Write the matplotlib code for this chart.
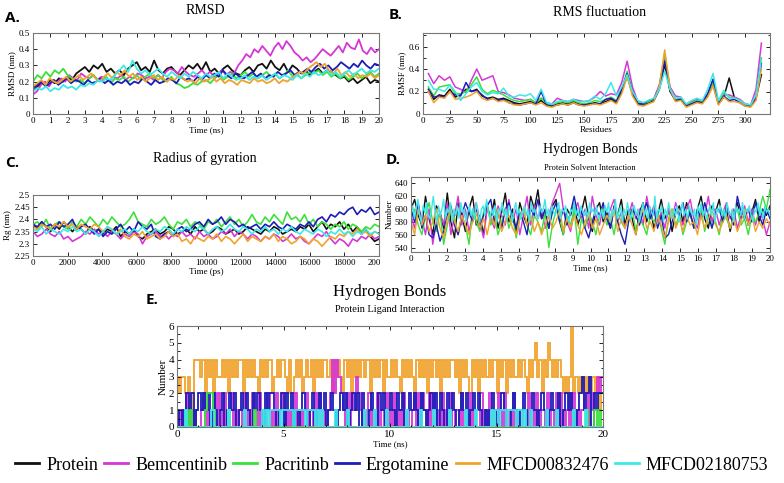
import matplotlib
matplotlib.use('Agg')
import matplotlib.pyplot as plt
import numpy as np
from matplotlib.transforms import Bbox, TransformedBbox

plt.rcParams.update({
    'font.family': 'Liberation Serif',
    'font.size': 7,
    'xtick.direction': 'in',
    'ytick.direction': 'in',
    'xtick.top': True,
    'ytick.right': True,
    'xtick.major.size': 3,
    'ytick.major.size': 3,
    'xtick.minor.size': 1.8,
    'ytick.minor.size': 1.8,
    'xtick.major.width': 0.6,
    'ytick.major.width': 0.6,
    'xtick.labelsize': 6.5,
    'ytick.labelsize': 6.5,
    'xtick.major.pad': 2,
    'ytick.major.pad': 2,
    'axes.edgecolor': '#777777',
    'axes.linewidth': 0.8,
})

NAMES = ['Protein', 'Bemcentinib', 'Pacritinb', 'Ergotamine', 'MFCD00832476', 'MFCD02180753']
COLORS = ['#111111', '#d636d6', '#3be03b', '#1c1cb8', '#f0a32c', '#3ee8e8']

# ---- A. RMSD (nm), 0-20 ns ----
rmsd_protein = [0.14,0.17,0.19,0.18,0.21,0.19,0.22,0.20,0.23,0.21,0.25,0.27,0.29,0.26,0.30,0.28,0.31,0.26,0.28,0.25,
                0.27,0.24,0.28,0.30,0.32,0.27,0.29,0.26,0.33,0.27,0.25,0.28,0.29,0.26,0.24,0.27,0.30,0.28,0.31,0.27,
                0.32,0.26,0.28,0.25,0.28,0.30,0.27,0.25,0.24,0.27,0.29,0.26,0.30,0.31,0.28,0.33,0.29,0.27,0.31,0.26,
                0.30,0.28,0.25,0.27,0.24,0.26,0.28,0.25,0.27,0.26,0.24,0.22,0.23,0.20,0.22,0.19,0.21,0.23,0.19,0.21,0.20]
rmsd_bemcentinib = [0.12,0.14,0.18,0.20,0.17,0.21,0.19,0.22,0.20,0.24,0.22,0.21,0.25,0.23,0.22,0.24,0.21,0.23,0.22,0.20,
                    0.23,0.22,0.24,0.21,0.23,0.22,0.25,0.24,0.22,0.23,0.21,0.24,0.22,0.26,0.28,0.27,0.25,0.29,0.26,0.24,
                    0.23,0.25,0.27,0.24,0.26,0.23,0.25,0.27,0.24,0.26,0.25,0.30,0.33,0.37,0.35,0.40,0.38,0.42,0.39,0.36,
                    0.41,0.44,0.40,0.45,0.42,0.38,0.36,0.33,0.35,0.32,0.34,0.37,0.40,0.38,0.36,0.39,0.42,0.38,0.44,0.41,
                    0.40,0.46,0.39,0.37,0.41,0.38,0.40]
rmsd_pacritinb = [0.20,0.24,0.22,0.26,0.23,0.27,0.25,0.28,0.24,0.22,0.20,0.21,0.19,0.22,0.24,0.21,0.20,0.23,0.19,0.22,
                  0.21,0.23,0.20,0.22,0.24,0.21,0.23,0.25,0.22,0.24,0.21,0.20,0.23,0.19,0.18,0.16,0.17,0.19,0.18,0.20,
                  0.21,0.19,0.22,0.24,0.21,0.23,0.25,0.22,0.24,0.26,0.23,0.25,0.22,0.24,0.26,0.23,0.25,0.22,0.24,0.27,
                  0.23,0.25,0.22,0.24,0.26,0.25,0.27,0.24,0.26,0.23,0.25,0.22,0.24,0.21,0.23,0.25,0.22,0.24,0.26,0.23,0.25]
rmsd_ergotamine = [0.16,0.18,0.20,0.17,0.19,0.21,0.18,0.20,0.22,0.19,0.21,0.20,0.18,0.21,0.19,0.20,0.22,0.19,0.21,0.18,
                   0.20,0.19,0.21,0.18,0.20,0.19,0.22,0.20,0.18,0.21,0.19,0.20,0.22,0.21,0.19,0.23,0.21,0.22,0.20,0.23,
                   0.21,0.24,0.22,0.25,0.23,0.27,0.24,0.22,0.25,0.23,0.22,0.24,0.26,0.23,0.25,0.22,0.24,0.23,0.26,0.24,
                   0.25,0.27,0.24,0.26,0.25,0.28,0.26,0.29,0.31,0.28,0.30,0.27,0.29,0.32,0.30,0.28,0.31,0.29,0.33,0.30,
                   0.28,0.31,0.30]
rmsd_mfcd008 = [0.17,0.19,0.21,0.18,0.22,0.20,0.19,0.21,0.23,0.20,0.22,0.24,0.21,0.23,0.25,0.22,0.20,0.23,0.25,0.22,
                0.26,0.24,0.27,0.23,0.25,0.21,0.23,0.20,0.22,0.24,0.21,0.23,0.20,0.22,0.21,0.24,0.22,0.20,0.21,0.19,
                0.22,0.20,0.21,0.23,0.20,0.22,0.19,0.21,0.20,0.18,0.21,0.20,0.19,0.22,0.20,0.21,0.19,0.20,0.22,0.19,
                0.21,0.20,0.22,0.24,0.26,0.25,0.28,0.30,0.32,0.29,0.31,0.27,0.25,0.28,0.24,0.26,0.23,0.25,0.22,0.24,
                0.23,0.25,0.22,0.24]
rmsd_mfcd021 = [0.14,0.16,0.15,0.17,0.14,0.16,0.15,0.18,0.16,0.17,0.15,0.18,0.17,0.19,0.18,0.21,0.20,0.22,0.21,0.24,
                0.27,0.30,0.26,0.33,0.28,0.25,0.27,0.24,0.26,0.28,0.25,0.23,0.26,0.24,0.22,0.25,0.23,0.26,0.24,0.22,
                0.25,0.23,0.24,0.26,0.22,0.25,0.23,0.21,0.22,0.24,0.21,0.23,0.22,0.24,0.21,0.23,0.25,0.22,0.24,0.23,
                0.21,0.24,0.22,0.25,0.23,0.26,0.24,0.25,0.27,0.24,0.26,0.23,0.25,0.27,0.24,0.26,0.28,0.25,0.27,0.26,0.28]

# ---- B. RMSF (nm), residues 5..315 every 5 ----
rmsf_protein = [0.20,0.13,0.17,0.16,0.22,0.15,0.17,0.22,0.20,0.22,0.16,0.14,0.15,0.13,0.14,0.12,0.10,0.09,0.10,0.11,
                0.09,0.12,0.08,0.07,0.09,0.10,0.09,0.11,0.09,0.08,0.09,0.10,0.09,0.11,0.13,0.10,0.20,0.34,0.18,0.09,
                0.08,0.10,0.12,0.22,0.44,0.20,0.12,0.13,0.07,0.09,0.11,0.10,0.16,0.26,0.09,0.15,0.32,0.14,0.12,0.08,
                0.07,0.14,0.35]
rmsf_bemcentinib = [0.36,0.27,0.34,0.30,0.33,0.24,0.22,0.19,0.30,0.40,0.30,0.32,0.34,0.20,0.19,0.17,0.14,0.13,0.12,0.13,
                    0.10,0.14,0.10,0.09,0.14,0.12,0.11,0.13,0.12,0.11,0.12,0.15,0.20,0.16,0.18,0.17,0.28,0.47,0.24,0.11,
                    0.10,0.11,0.14,0.26,0.50,0.24,0.16,0.15,0.08,0.11,0.13,0.12,0.18,0.30,0.10,0.17,0.17,0.15,0.13,0.09,
                    0.08,0.22,0.63]
rmsf_pacritinb = [0.24,0.16,0.24,0.25,0.26,0.18,0.18,0.20,0.26,0.33,0.22,0.18,0.21,0.19,0.17,0.14,0.12,0.11,0.12,0.13,
                  0.10,0.14,0.09,0.08,0.10,0.11,0.10,0.12,0.10,0.09,0.10,0.12,0.11,0.13,0.15,0.12,0.22,0.38,0.20,0.10,
                  0.09,0.11,0.13,0.24,0.54,0.22,0.13,0.14,0.08,0.10,0.12,0.11,0.17,0.28,0.10,0.19,0.15,0.14,0.12,0.08,
                  0.08,0.16,0.50]
rmsf_ergotamine = [0.22,0.15,0.16,0.15,0.20,0.17,0.16,0.28,0.20,0.21,0.17,0.13,0.14,0.12,0.13,0.10,0.09,0.08,0.09,0.10,
                   0.09,0.20,0.08,0.07,0.08,0.09,0.08,0.10,0.08,0.08,0.09,0.09,0.09,0.13,0.14,0.11,0.22,0.36,0.20,0.09,
                   0.09,0.12,0.13,0.24,0.47,0.21,0.12,0.13,0.07,0.09,0.11,0.10,0.18,0.31,0.09,0.16,0.12,0.13,0.10,0.07,
                   0.07,0.15,0.45]
rmsf_mfcd008 = [0.20,0.10,0.15,0.14,0.20,0.13,0.14,0.15,0.17,0.20,0.14,0.12,0.14,0.11,0.12,0.10,0.08,0.08,0.09,0.10,
                0.08,0.10,0.07,0.06,0.08,0.09,0.08,0.10,0.08,0.07,0.08,0.09,0.08,0.10,0.12,0.09,0.18,0.33,0.16,0.08,
                0.07,0.09,0.11,0.25,0.57,0.22,0.11,0.12,0.06,0.08,0.10,0.09,0.15,0.25,0.08,0.15,0.11,0.11,0.10,0.07,
                0.06,0.12,0.40]
rmsf_mfcd021 = [0.30,0.22,0.22,0.20,0.26,0.20,0.12,0.18,0.24,0.28,0.20,0.17,0.19,0.18,0.23,0.16,0.15,0.17,0.16,0.18,
                0.12,0.22,0.10,0.09,0.11,0.12,0.11,0.13,0.11,0.11,0.12,0.16,0.13,0.18,0.28,0.16,0.24,0.35,0.20,0.12,
                0.10,0.12,0.14,0.22,0.38,0.22,0.14,0.15,0.09,0.12,0.14,0.12,0.22,0.36,0.12,0.21,0.14,0.14,0.12,0.09,
                0.08,0.17,0.48]

# ---- C. Radius of gyration (nm), 0-20000 ps ----
rg_protein = np.array("2.38 2.36 2.39 2.37 2.35 2.38 2.36 2.39 2.37 2.35 2.37 2.36 2.34 2.37 2.35 2.36 2.34 2.36 2.35 2.37 "
                      "2.33 2.35 2.34 2.36 2.33 2.32 2.34 2.35 2.36 2.34 2.35 2.37 2.36 2.34 2.35 2.36 2.34 2.37 2.35 2.36 "
                      "2.34 2.35 2.37 2.36 2.34 2.35 2.36 2.34 2.35 2.37 2.36 2.35 2.34 2.36 2.35 2.37 2.36 2.34 2.35 2.36 "
                      "2.35 2.37 2.36 2.38 2.35 2.37 2.39 2.36 2.38 2.37 2.39 2.36 2.38 2.35 2.37 2.34 2.36 2.33 2.31 2.32".split(), float)
rg_bemcentinib = np.array("2.35 2.33 2.34 2.36 2.34 2.33 2.35 2.32 2.33 2.31 2.32 2.33 2.35 2.34 2.36 2.34 2.35 2.33 2.35 2.34 "
                          "2.32 2.34 2.33 2.35 2.34 2.30 2.33 2.34 2.35 2.33 2.34 2.32 2.34 2.33 2.35 2.33 2.34 2.32 2.35 2.33 "
                          "2.34 2.32 2.33 2.35 2.34 2.36 2.33 2.35 2.34 2.32 2.34 2.33 2.31 2.33 2.32 2.34 2.33 2.31 2.32 2.34 "
                          "2.32 2.33 2.31 2.30 2.32 2.34 2.33 2.35 2.32 2.30 2.32 2.31 2.29 2.32 2.31 2.33 2.32 2.34 2.32 2.33".split(), float)
rg_pacritinb = np.array("2.38 2.39 2.37 2.40 2.36 2.38 2.39 2.37 2.36 2.39 2.37 2.40 2.38 2.41 2.39 2.37 2.40 2.38 2.41 2.39 "
                        "2.37 2.38 2.40 2.43 2.39 2.38 2.37 2.40 2.38 2.39 2.41 2.38 2.36 2.39 2.38 2.40 2.37 2.39 2.38 2.36 "
                        "2.39 2.38 2.40 2.37 2.39 2.41 2.38 2.40 2.37 2.39 2.42 2.39 2.38 2.41 2.39 2.42 2.40 2.38 2.43 2.40 "
                        "2.41 2.39 2.42 2.38 2.40 2.37 2.39 2.38 2.36 2.38 2.37 2.39 2.36 2.38 2.37 2.35 2.37 2.36 2.38 2.37".split(), float)
rg_ergotamine = np.array("2.38 2.37 2.39 2.37 2.38 2.36 2.39 2.37 2.38 2.40 2.36 2.37 2.38 2.36 2.34 2.36 2.33 2.35 2.34 2.36 "
                         "2.38 2.35 2.37 2.35 2.39 2.37 2.36 2.38 2.33 2.32 2.34 2.35 2.33 2.36 2.37 2.35 2.36 2.38 2.39 2.37 "
                         "2.40 2.38 2.39 2.41 2.38 2.40 2.39 2.37 2.38 2.36 2.37 2.38 2.36 2.38 2.37 2.39 2.37 2.36 2.38 2.37 "
                         "2.36 2.38 2.37 2.39 2.37 2.40 2.41 2.39 2.42 2.41 2.43 2.42 2.44 2.45 2.42 2.44 2.43 2.45 2.42 2.43".split(), float)
rg_mfcd008 = np.array("2.37 2.36 2.38 2.37 2.36 2.38 2.37 2.39 2.37 2.38 2.36 2.38 2.37 2.36 2.38 2.37 2.35 2.37 2.36 2.34 "
                      "2.36 2.33 2.32 2.34 2.33 2.35 2.32 2.33 2.34 2.32 2.33 2.35 2.33 2.34 2.31 2.32 2.30 2.33 2.32 2.31 "
                      "2.33 2.32 2.34 2.31 2.33 2.32 2.30 2.32 2.34 2.31 2.33 2.32 2.31 2.33 2.32 2.34 2.31 2.33 2.32 2.30 "
                      "2.31 2.33 2.32 2.30 2.32 2.31 2.29 2.31 2.33 2.32 2.34 2.33 2.35 2.34 2.36 2.34 2.35 2.33 2.35 2.34".split(), float)
rg_mfcd021 = np.array("2.36 2.35 2.37 2.34 2.36 2.35 2.34 2.36 2.35 2.37 2.35 2.36 2.34 2.36 2.35 2.33 2.35 2.37 2.36 2.34 "
                      "2.35 2.36 2.34 2.36 2.35 2.37 2.35 2.34 2.36 2.35 2.37 2.36 2.34 2.36 2.35 2.37 2.36 2.35 2.37 2.36 "
                      "2.34 2.36 2.37 2.35 2.36 2.38 2.36 2.35 2.37 2.36 2.34 2.36 2.35 2.37 2.35 2.36 2.34 2.36 2.35 2.37 "
                      "2.35 2.34 2.36 2.35 2.34 2.36 2.35 2.33 2.35 2.34 2.36 2.34 2.35 2.33 2.35 2.34 2.36 2.34 2.35 2.34".split(), float)

# ---- D. H-bonds protein-solvent, 0-20 ns ----
hb_solv_protein = np.array("600 615 590 575 620 585 560 605 595 570 625 580 555 610 590 565 600 620 575 590 "
                           "560 605 585 615 570 595 625 580 600 565 610 590 575 620 600 630 585 595 570 605 "
                           "615 580 560 600 590 610 575 595 620 585 565 600 610 580 595 570 605 590 615 575 "
                           "600 585 560 595 610 580 600 570 590 615 585 600 565 595 605 580 610 590 575 600 "
                           "620 585 570 605 595 615 580 600 565 590 610 585 600 575 595 615 580 600 590 605".split(), float)
hb_solv_bemcentinib = np.array("590 570 605 585 560 600 545 580 595 575 610 560 590 620 575 600 565 590 610 580 "
                               "555 600 585 570 605 590 575 615 580 600 560 590 620 575 605 585 600 570 590 610 "
                               "625 640 600 580 565 595 610 585 600 570 620 590 575 605 585 600 615 580 595 570 "
                               "590 610 585 600 575 620 590 605 580 595 570 600 585 610 590 575 600 615 585 570 "
                               "605 590 620 580 600 575 595 610 585 600 570 590 605 580 600 575 595 585 560 580".split(), float)
hb_solv_pacritinb = np.array("585 600 575 560 590 610 580 565 595 545 575 600 585 560 590 575 545 600 580 565 "
                             "595 610 575 590 560 580 600 570 590 555 585 600 575 560 590 580 565 595 540 575 "
                             "600 585 560 590 575 600 545 585 570 595 580 560 590 600 575 585 560 595 580 570 "
                             "590 600 565 585 575 560 590 580 595 570 545 585 600 575 590 560 580 595 570 585 "
                             "600 565 590 575 580 560 595 585 570 590 600 575 585 560 590 580 595 620 600 630".split(), float)
hb_solv_ergotamine = np.array("600 580 610 570 590 560 555 575 550 565 590 605 575 560 590 610 595 580 600 570 "
                              "590 605 615 580 595 570 600 610 585 570 595 580 560 600 590 615 585 600 570 595 "
                              "610 580 600 575 595 620 590 600 570 555 580 600 590 610 585 570 600 580 560 545 "
                              "580 600 590 575 595 610 585 600 570 590 555 560 580 600 590 610 580 595 570 600 "
                              "585 610 590 570 595 600 580 605 590 575 620 595 585 600 580 610 590 575 600 585".split(), float)
hb_solv_mfcd008 = np.array("580 560 600 575 590 565 580 600 570 555 585 600 580 565 590 575 560 580 595 570 "
                           "585 560 590 575 600 565 580 590 570 560 585 600 575 590 565 580 560 575 590 570 "
                           "580 600 565 585 570 590 575 560 580 595 570 585 560 575 590 580 600 565 585 570 "
                           "590 575 560 585 600 570 580 565 590 575 555 580 600 570 585 565 590 575 580 560 "
                           "590 570 585 600 575 565 580 590 570 585 565 580 600 575 590 565 580 570 585 575".split(), float)
hb_solv_mfcd021 = np.array("595 605 585 600 615 590 580 605 595 610 590 585 600 620 595 580 605 590 600 615 "
                           "585 600 595 610 580 600 590 605 585 610 595 600 580 595 605 590 600 585 610 595 "
                           "580 600 605 590 615 595 585 600 590 605 580 600 595 610 590 600 585 605 595 580 "
                           "600 610 590 600 585 595 605 590 600 580 610 595 600 590 585 605 595 600 615 590 "
                           "600 585 605 595 590 600 610 585 600 595 605 590 580 600 595 610 590 600 585 605 "
                           "595 590 600 585 610 595 600 590 605 585 590 600 585 605 595 610 580 600 590 615 "
                           "585 595 605 580 600 590 610 595 585 600 605 590 600 580 595 610 590 600 585 605 "
                           "595 590 620 585 600 595 605 580 600 590 610 595 585 600 590 605 580 595 610 590 "
                           "600 585 605 595 590 600 575 605 595 610 590 600 585 595 605 590 610 580 600 595 "
                           "605 590 600 585 610 595 590 600 580 605 595 600 590 610 585 600 595 605 590 580 "
                           "600 595 610 590 600 585 605 595 600 590".split(), float)

# ---- E. H-bonds protein-ligand, 0-20 ns (0.1 ns frames) ----
hb_lig_bemcentinib = [int(c) for c in
    "0101201010012010120210201201010201021020102010201201010201012010202010"
    "1242432102021321010201020102010201020101202021020201020102011020102010"
    "0201020102102010201001020102011020102020102020101220212323"]
hb_lig_pacritinb = [int(c) for c in
    "0000101000000122210000001000000000001000000000000000000000000000000000"
    "0000000000000000000000000000000000000000000000000000000000000000000000"
    "000000000000000000000000000000000000000000000000000010001010"]
hb_lig_ergotamine = [int(c) for c in
    "1010212012121202101201212012121021210212210120212010121012012120121012"
    "1201212021012102120121021201212102101212021021210121201212101012101210"
    "0121012101210121012112012121012312302122"]
hb_lig_mfcd008 = [int(c) for c in
    "3233231244434243424334342434344243434324343442343443242343423434243434"
    "4342434324342434343442434342433434324343432434342434342434344342434324"
    "3424343434424342434334343243453424354343432323623232323232312"]
hb_lig_mfcd021 = [int(c) for c in
    "0000100000000000010000000100000001000000001010111110111110111110111101"
    "0100000010000010000000100001000001000000000100000010000010000000100000"
    "0010000100000001010111011110110100100000001000010000000100000100000000"]

rmsd = [rmsd_protein, rmsd_bemcentinib, rmsd_pacritinb, rmsd_ergotamine, rmsd_mfcd008, rmsd_mfcd021]
rmsf = [rmsf_protein, rmsf_bemcentinib, rmsf_pacritinb, rmsf_ergotamine, rmsf_mfcd008, rmsf_mfcd021]
rg = [rg_protein, rg_bemcentinib, rg_pacritinb, rg_ergotamine, rg_mfcd008, rg_mfcd021]
hb_solv = [hb_solv_protein, hb_solv_bemcentinib, hb_solv_pacritinb, hb_solv_ergotamine, hb_solv_mfcd008, hb_solv_mfcd021]

W, H = 784, 483
fig = plt.figure(figsize=(W / 100, H / 100), dpi=100)


def px_axes(left, top, right, bottom):
    return fig.add_axes([left / W, 1 - bottom / H, (right - left) / W, (bottom - top) / H])


def px_text(x, y, s, **kw):
    fig.text(x / W, 1 - y / H, s, ha=kw.pop('ha', 'center'), va=kw.pop('va', 'center'), **kw)


def letter(x, y, s):
    fig.text(x / W, 1 - y / H, s, ha='left', va='center', fontsize=11,
             fontweight='bold', family='Open Sans')


# A. RMSD
ax_a = px_axes(33, 33, 379, 114)
lines = []
for vals, name, col in zip(rmsd, NAMES, COLORS):
    ln, = ax_a.plot(np.linspace(0, 20, len(vals)), vals, color=col, lw=1.3, label=name)
    lines.append(ln)
ax_a.set_xlim(0, 20)
ax_a.set_ylim(0, 0.5)
ax_a.set_xticks(np.arange(0, 21, 1))
ax_a.set_yticks(np.arange(0, 0.51, 0.1))
ax_a.set_yticklabels(['0', '0.1', '0.2', '0.3', '0.4', '0.5'])
ax_a.set_xlabel('Time (ns)', fontsize=6.5, labelpad=1)
ax_a.set_ylabel('RMSD (nm)', fontsize=6.5, labelpad=2)
letter(5, 18, 'A.')
px_text(205, 11, 'RMSD', fontsize=10)

# B. RMSF
ax_b = px_axes(423, 33, 770, 114)
for vals, col in zip(rmsf, COLORS):
    ax_b.plot(np.linspace(5, 315, len(vals)), vals, color=col, lw=1.1)
ax_b.set_xlim(0, 323)
ax_b.set_ylim(0, 0.72)
ax_b.set_xticks(np.arange(0, 301, 25))
ax_b.set_yticks([0, 0.2, 0.4, 0.6])
ax_b.set_yticks([0.1, 0.3, 0.5, 0.7], minor=True)
ax_b.set_yticklabels(['0', '0.2', '0.4', '0.6'])
ax_b.set_xlabel('Residues', fontsize=6.5, labelpad=1)
ax_b.set_ylabel('RMSF (nm)', fontsize=6.5, labelpad=2)
letter(389, 15, 'B.')
px_text(600, 12, 'RMS fluctuation', fontsize=10)

# C. Radius of gyration
ax_c = px_axes(33, 195, 379, 256)
for vals, col in zip(rg, COLORS):
    ax_c.plot(np.linspace(0, 20000, len(vals)), vals, color=col, lw=1.2)
ax_c.set_xlim(0, 20000)
ax_c.set_ylim(2.25, 2.5)
ax_c.set_xticks(np.arange(0, 20001, 2000))
ax_c.set_yticks([2.25, 2.3, 2.35, 2.4, 2.45, 2.5])
ax_c.set_yticklabels(['2.25', '2.3', '2.35', '2.4', '2.45', '2.5'])
ax_c.set_xlabel('Time (ps)', fontsize=6.5, labelpad=1)
ax_c.set_ylabel('Rg (nm)', fontsize=6.5, labelpad=2)
clip = TransformedBbox(Bbox([[0, 0], [380 / W, 1]]), fig.transFigure)
last = ax_c.get_xticklabels()[-1]
last.set_clip_box(clip)
last.set_clip_on(True)
letter(5, 163, 'C.')
px_text(205, 158, 'Radius of gyration', fontsize=10)

# D. Protein-solvent H-bonds
ax_d = px_axes(411, 177, 770, 252)
for vals, col in zip(hb_solv, COLORS):
    ax_d.plot(np.linspace(0, 20, len(vals)), vals, color=col, lw=1.0)
ax_d.set_xlim(0, 20)
ax_d.set_ylim(533, 650)
ax_d.set_xticks(np.arange(0, 21, 1))
ax_d.set_yticks(np.arange(540, 641, 20))
ax_d.set_xlabel('Time (ns)', fontsize=6.5, labelpad=1)
ax_d.set_ylabel('Number', fontsize=6.5, labelpad=1)
letter(386, 160, 'D.')
px_text(590, 150, 'Hydrogen Bonds', fontsize=10)
px_text(590, 168, 'Protein Solvent Interaction', fontsize=6)

# E. Protein-ligand H-bonds
ax_e = px_axes(177, 326, 603, 427)
e_series = [(hb_lig_mfcd008, COLORS[4]), (hb_lig_bemcentinib, COLORS[1]),
            (hb_lig_ergotamine, COLORS[3]), (hb_lig_pacritinb, COLORS[2]),
            (hb_lig_mfcd021, COLORS[5])]
for vals, col in e_series:
    ax_e.stairs(vals, np.linspace(0, 20, len(vals) + 1), baseline=None, color=col, lw=1.3)
ax_e.set_xlim(0, 20)
ax_e.set_ylim(0, 6)
ax_e.set_xticks(np.arange(0, 21, 5))
ax_e.set_xticks(np.arange(0, 21, 1), minor=True)
ax_e.set_yticks(np.arange(0, 7, 1))
ax_e.set_yticks(np.arange(0.5, 6, 1), minor=True)
ax_e.tick_params(labelsize=8)
ax_e.set_xlabel('Time (ns)', fontsize=6.5, labelpad=1)
ax_e.set_ylabel('Number', fontsize=8, labelpad=1)
letter(146, 300, 'E.')
px_text(390, 292, 'Hydrogen Bonds', fontsize=12)
px_text(390, 310, 'Protein Ligand Interaction', fontsize=7.5)

leg = fig.legend(lines, NAMES, loc='center', bbox_to_anchor=(0.5, 1 - 465 / H), ncol=6,
                 frameon=False, fontsize=13, handlelength=1.3, handletextpad=0.4,
                 columnspacing=0.35, borderaxespad=0)
for h in leg.get_lines():
    h.set_linewidth(2)

fig.savefig('out.png', dpi=100)
